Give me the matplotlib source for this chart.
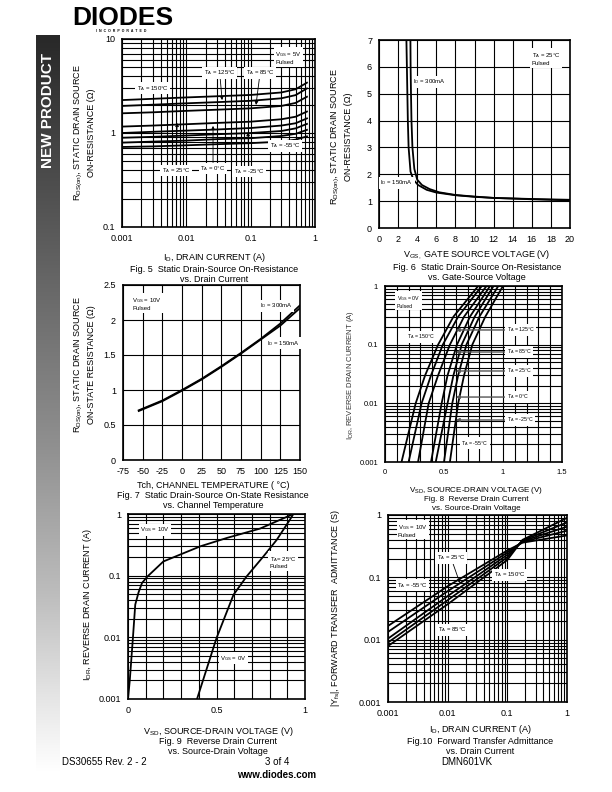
import numpy as np
import matplotlib
matplotlib.use("Agg")
import matplotlib.pyplot as plt
from matplotlib.colors import LinearSegmentedColormap

plt.rcParams['font.family'] = ['Liberation Sans', 'DejaVu Sans']
plt.rcParams['mathtext.default'] = 'regular'
plt.rcParams['axes.unicode_minus'] = False

W, H = 612, 792

# ---- Fig 5: Rds(on) vs drain current (log-log)
f5_id = [0.001, 0.003, 0.01, 0.03, 0.1, 0.3, 0.5, 0.75]
f5_curves = [
    [2.24, 2.31, 2.39, 2.46, 2.54, 2.70, 2.92, 3.43],
    [1.94, 2.00, 2.07, 2.13, 2.20, 2.34, 2.53, 2.98],
    [1.62, 1.66, 1.72, 1.77, 1.83, 1.94, 2.09, 2.43],
    [1.17, 1.20, 1.24, 1.28, 1.32, 1.40, 1.49, 1.69],
    [1.00, 1.03, 1.06, 1.09, 1.13, 1.20, 1.27, 1.43],
    [0.89, 0.91, 0.94, 0.97, 1.00, 1.05, 1.12, 1.25],
    [0.79, 0.81, 0.83, 0.86, 0.88, 0.93, 0.98, 1.08],
    [0.71, 0.72, 0.74, 0.76, 0.78, 0.81, 0.85, 0.92],
]

# ---- Fig 6: Rds(on) vs gate-source voltage
f6_v150 = [2.87, 2.92, 2.97, 3.02, 3.10, 3.30, 3.60, 4.10, 5.0, 6.0, 8.0, 10.0, 12.0, 16.0, 20.0]
f6_r150 = [7.0, 6.0, 5.0, 4.0, 3.0, 2.1, 1.8, 1.6, 1.42, 1.32, 1.22, 1.16, 1.12, 1.08, 1.05]
f6_v300 = [3.29, 3.31, 3.35, 3.40, 3.50, 3.70, 4.00, 4.50, 5.3, 6.3, 8.0, 10.0, 12.0, 16.0, 20.0]
f6_r300 = [7.0, 6.0, 5.0, 4.0, 3.0, 2.2, 1.8, 1.6, 1.45, 1.33, 1.23, 1.17, 1.12, 1.07, 1.03]

# ---- Fig 7: Rds(on) vs channel temperature
f7_t = [-55, -25, 0, 25, 50, 75, 100, 125, 150]
f7_r300 = [0.71, 0.85, 1.00, 1.16, 1.34, 1.53, 1.73, 1.95, 2.21]
f7_r150 = [0.70, 0.84, 0.99, 1.15, 1.33, 1.52, 1.72, 1.92, 2.17]

# ---- Fig 8: reverse drain current vs Vsd at temperatures
f8_i = [0.001, 0.01, 0.03, 0.1, 0.3, 1.0]
f8_curves = [
    [0.14, 0.26, 0.34, 0.45, 0.58, 0.79],
    [0.20, 0.31, 0.39, 0.49, 0.62, 0.82],
    [0.28, 0.37, 0.45, 0.55, 0.67, 0.86],
    [0.39, 0.48, 0.53, 0.61, 0.72, 0.89],
    [0.43, 0.53, 0.58, 0.65, 0.76, 0.92],
    [0.50, 0.57, 0.62, 0.69, 0.80, 0.96],
    [0.55, 0.62, 0.67, 0.74, 0.85, 1.00],
]

# ---- Fig 9: reverse drain current vs Vsd, Vgs 10V / 0V
f9_v10 = [0.0, 0.01, 0.028, 0.041, 0.06, 0.079, 0.11, 0.2, 0.295, 0.41, 0.56, 0.746, 0.934]
f9_i10 = [0.001, 0.002, 0.01, 0.034, 0.054, 0.076, 0.097, 0.17, 0.22, 0.30, 0.41, 0.58, 1.0]
f9_v0 = [0.39, 0.50, 0.596, 0.67, 0.765, 0.84, 0.915, 0.934]
f9_i0 = [0.001, 0.0097, 0.049, 0.097, 0.205, 0.38, 0.81, 1.0]

# ---- Fig 10: forward transfer admittance vs drain current
f10_id = [0.001, 0.01, 0.1, 0.18, 1.0]
f10_curves = [
    [0.0166, 0.072, 0.27, 0.36, 0.47],
    [0.0133, 0.060, 0.25, 0.37, 0.56],
    [0.0104, 0.050, 0.23, 0.38, 0.65],
    [0.0090, 0.043, 0.21, 0.39, 0.76],
    [0.0079, 0.037, 0.19, 0.40, 0.90],
]

fig = plt.figure(figsize=(W / 100, H / 100), dpi=100)


def add_ax(x0, y0, x1, y1):
    return fig.add_axes([x0 / W, 1 - y1 / H, (x1 - x0) / W, (y1 - y0) / H])


def ftext(x, y, s, **kw):
    kw.setdefault('fontsize', 6.5)
    kw.setdefault('ha', 'center')
    kw.setdefault('va', 'center')
    fig.text(x / W, 1 - y / H, s, **kw)


def style(ax):
    for sp in ax.spines.values():
        sp.set_linewidth(1.2)
    ax.tick_params(which='both', length=0, labelsize=6.5, pad=5)
    ax.grid(which='both', color='black', lw=0.8)
    ax.set_axisbelow(True)


box = dict(facecolor='white', edgecolor='none', pad=1.0)
arw = dict(arrowstyle='-|>', lw=0.6, color='black', mutation_scale=5, shrinkA=0, shrinkB=0)
garw = dict(arrowstyle='-|>', lw=1.0, color='#555555', mutation_scale=5, shrinkA=0, shrinkB=0)
LS = 4.3

# banner
bax = fig.add_axes([36 / W, 1 - 772 / H, 24 / W, (772 - 35) / H])
cm = LinearSegmentedColormap.from_list('bn', [(0, '#282828'), (0.36, '#6b6b6b'), (0.56, '#909090'),
                                               (0.76, '#bdbdbd'), (0.9, '#e5e5e5'), (1, '#ffffff')])
bax.imshow(np.linspace(0, 1, 256).reshape(-1, 1), aspect='auto', cmap=cm)
bax.axis('off')
ftext(48, 110, 'NEW PRODUCT', color='white', fontsize=11, fontweight='bold', rotation=90)

# logo
ftext(72, 18, 'DIODES', ha='left', fontsize=19, fontweight='heavy')
ftext(121, 31, 'I  N  C  O  R  P  O  R  A  T  E  D', fontsize=2.5, fontweight='bold')

# ---------------- Fig 5
ax = add_ax(122, 39, 315, 227)
for r in f5_curves:
    ax.plot(f5_id, r, color='black', lw=1.3)
ax.set_xscale('log'); ax.set_yscale('log')
ax.set_xlim(0.001, 1); ax.set_ylim(0.1, 10)
ax.set_xticks([0.001, 0.01, 0.1, 1], ['0.001', '0.01', '0.1', '1'])
ax.set_yticks([0.1, 1, 10], ['0.1', '1', '10'])
style(ax)
ax.text(0.24, 6.3, 'V$_{GS}$ = 5V\nPulsed', fontsize=LS, ha='left', va='center', bbox=box)
ax.annotate('T$_A$ = 125°C', xy=(0.036, 2.24), xytext=(0.033, 4.35), fontsize=LS,
            ha='center', va='center', bbox=box, arrowprops=arw)
ax.annotate('T$_A$ = 85°C', xy=(0.121, 1.99), xytext=(0.14, 4.35), fontsize=LS,
            ha='center', va='center', bbox=box, arrowprops=arw)
ax.text(0.003, 3.0, 'T$_A$ = 150°C', fontsize=LS, ha='center', va='center', bbox=box)
ax.annotate('T$_A$ = 25°C', xy=(0.0072, 1.28), xytext=(0.0069, 0.40), fontsize=LS,
            ha='center', va='center', bbox=box, arrowprops=arw)
ax.annotate('T$_A$ = 0°C', xy=(0.026, 1.19), xytext=(0.026, 0.42), fontsize=LS,
            ha='center', va='center', bbox=box, arrowprops=arw)
ax.annotate('T$_A$ = -25°C', xy=(0.091, 1.02), xytext=(0.094, 0.39), fontsize=LS,
            ha='center', va='center', bbox=box, arrowprops=arw)
ax.text(0.34, 0.73, 'T$_A$ = -55°C', fontsize=LS, ha='center', va='center', bbox=box)
ftext(84, 133, 'R$_{DS(on)}$, STATIC DRAIN SOURCE\nON-RESISTANCE (Ω)', rotation=90, linespacing=1.4)
ftext(214, 257, 'I$_D$, DRAIN CURRENT (A)')
ftext(214, 269, 'Fig. 5  Static Drain-Source On-Resistance')
ftext(214, 279, 'vs. Drain Current')

# ---------------- Fig 6
ax = add_ax(379, 40, 570, 228)
ax.plot(f6_v150, f6_r150, color='black', lw=1.3)
ax.plot(f6_v300, f6_r300, color='black', lw=1.3)
ax.set_xlim(0, 20); ax.set_ylim(0, 7)
ax.set_xticks(range(0, 21, 2)); ax.set_yticks(range(0, 8))
style(ax)
ax.text(16.0, 6.3, 'T$_A$ = 25°C\nPulsed', fontsize=LS, ha='left', va='center', bbox=box)
ax.text(3.56, 5.44, 'I$_D$ = 300mA', fontsize=LS, ha='left', va='center', bbox=box)
ax.text(0.15, 1.68, 'I$_D$ = 150mA', fontsize=LS, ha='left', va='center', bbox=box)
ftext(341, 137, 'R$_{DS(on)}$, STATIC DRAIN SOURCE\nON-RESISTANCE (Ω)', rotation=90, linespacing=1.4)
ftext(477, 255, 'V$_{GS,}$ GATE SOURCE VOLTAGE (V)')
ftext(477, 267, 'Fig. 6  Static Drain-Source On-Resistance')
ftext(477, 277, 'vs. Gate-Source Voltage')

# ---------------- Fig 7
ax = add_ax(123, 285, 300, 460)
ax.plot(f7_t, f7_r300, color='black', lw=1.3)
ax.plot(f7_t, f7_r150, color='black', lw=1.3)
ax.set_xlim(-75, 150); ax.set_ylim(0, 2.5)
ax.set_xticks(range(-75, 151, 25)); ax.set_yticks([0, 0.5, 1, 1.5, 2, 2.5], ['0', '0.5', '1', '1.5', '2', '2.5'])
style(ax)
ax.text(-63, 2.23, 'V$_{GS}$ = 10V\nPulsed', fontsize=LS, ha='left', va='center', bbox=box)
ax.text(99, 2.2, 'I$_D$ = 300mA', fontsize=LS, ha='left', va='center', bbox=box)
ax.text(108, 1.67, 'I$_D$ = 150mA', fontsize=LS, ha='left', va='center', bbox=box)
ftext(84, 365, 'R$_{DS(on)}$, STATIC DRAIN SOURCE\nON-STATE RESISTANCE (Ω)', rotation=90, linespacing=1.4)
ftext(213, 486, 'Tch, CHANNEL TEMPERATURE ( °C)')
ftext(213, 496, 'Fig. 7  Static Drain-Source On-State Resistance')
ftext(213, 505, 'vs. Channel Temperature')

# ---------------- Fig 8
ax = add_ax(385, 286, 562, 462)
for v in f8_curves:
    ax.plot(v, f8_i, color='black', lw=1.3)
ax.set_yscale('log')
ax.set_xlim(0, 1.5); ax.set_ylim(0.001, 1)
ax.set_xticks([0, 0.5, 1, 1.5], ['0', '0.5', '1', '1.5'])
ax.set_xticks(np.arange(0, 1.51, 0.1), minor=True)
ax.set_yticks([0.001, 0.01, 0.1, 1], ['0.001', '0.01', '0.1', '1'])
style(ax)
ax.tick_params(labelsize=5.5)
ax.text(0.10, 0.55, 'V$_{GS}$ = 0V\nPulsed', fontsize=3.8, ha='left', va='center', bbox=box)
ax.text(0.31, 0.135, 'T$_A$ = 150°C', fontsize=3.8, ha='center', va='center', bbox=box)
for lbl, yy in [('125', 0.178), ('85', 0.075), ('25', 0.0356), ('0', 0.0128), ('-25', 0.0052)]:
    ax.annotate('T$_A$ = ' + lbl + '°C', xy=(0.60, yy), xytext=(1.03, yy), fontsize=3.8,
                ha='left', va='center', bbox=box, arrowprops=garw)
ax.text(0.76, 0.0021, 'T$_A$ = -55°C', fontsize=3.8, ha='center', va='center', bbox=box)
ftext(350, 375, 'I$_{DR}$, REVERSE DRAIN CURRENT (A)', rotation=90, fontsize=5.5, color='#333333')
ftext(476, 491, 'V$_{SD}$, SOURCE-DRAIN VOLTAGE (V)', fontsize=5.8)
ftext(476, 500, 'Fig. 8  Reverse Drain Current', fontsize=5.8)
ftext(476, 508, 'vs. Source-Drain Voltage', fontsize=5.8)

# ---------------- Fig 9
ax = add_ax(128, 514, 305, 699)
ax.plot(f9_v10, f9_i10, color='black', lw=1.3)
ax.plot(f9_v0, f9_i0, color='black', lw=1.3)
ax.set_yscale('log')
ax.set_xlim(0, 1); ax.set_ylim(0.001, 1)
ax.set_xticks([0, 0.5, 1], ['0', '0.5', '1'])
ax.set_xticks(np.arange(0, 1.01, 0.1), minor=True)
ax.set_yticks([0.001, 0.01, 0.1, 1], ['0.001', '0.01', '0.1', '1'])
style(ax)
ax.text(0.068, 0.55, 'V$_{GS}$ = 10V', fontsize=LS, ha='left', va='center', bbox=box)
ax.text(0.80, 0.166, 'T$_A$= 25°C\nPulsed', fontsize=LS, ha='left', va='center', bbox=box)
ax.text(0.52, 0.0046, 'V$_{GS}$ = 0V', fontsize=LS, ha='left', va='center', bbox=box)
ftext(88, 605, 'I$_{DR}$, REVERSE DRAIN CURRENT (A)', rotation=90)
ftext(218, 732, 'V$_{SD}$, SOURCE-DRAIN VOLTAGE (V)')
ftext(218, 742, 'Fig. 9  Reverse Drain Current')
ftext(218, 751, 'vs. Source-Drain Voltage')

# ---------------- Fig 10
ax = add_ax(388, 515, 567, 702)
for y in f10_curves:
    ax.plot(f10_id, y, color='black', lw=1.3)
ax.set_xscale('log'); ax.set_yscale('log')
ax.set_xlim(0.001, 1); ax.set_ylim(0.001, 1)
ax.set_xticks([0.001, 0.01, 0.1, 1], ['0.001', '0.01', '0.1', '1'])
ax.set_yticks([0.001, 0.01, 0.1, 1], ['0.001', '0.01', '0.1', '1'])
style(ax)
ax.text(0.00147, 0.57, 'V$_{GS}$ = 10V\nPulsed', fontsize=LS, ha='left', va='center', bbox=box)
ax.annotate('T$_A$ = 25°C', xy=(0.016, 0.081), xytext=(0.0114, 0.204), fontsize=LS,
            ha='center', va='center', bbox=box, arrowprops=arw)
ax.text(0.11, 0.109, 'T$_A$ = 150°C', fontsize=LS, ha='center', va='center', bbox=box)
ax.text(0.0026, 0.075, 'T$_A$ = -55°C', fontsize=LS, ha='center', va='center', bbox=box)
ax.text(0.0118, 0.0143, 'T$_A$ = 85°C', fontsize=LS, ha='center', va='center', bbox=box)
ftext(335, 608, '|Y$_{fs}$|, FORWARD TRANSFER  ADMITTANCE (S)', rotation=90)
ftext(480, 730, 'I$_D$, DRAIN CURRENT (A)')
ftext(480, 741, 'Fig.10  Forward Transfer Admittance')
ftext(480, 751, 'vs. Drain Current')

# footer
ftext(62, 762, 'DS30655 Rev. 2 - 2', ha='left', fontsize=7)
ftext(277, 762, '3 of 4', fontsize=7)
ftext(492, 762, 'DMN601VK', ha='right', fontsize=7)
ftext(277, 775, 'www.diodes.com', fontsize=7, fontweight='bold')

fig.savefig('out.png', dpi=100)
